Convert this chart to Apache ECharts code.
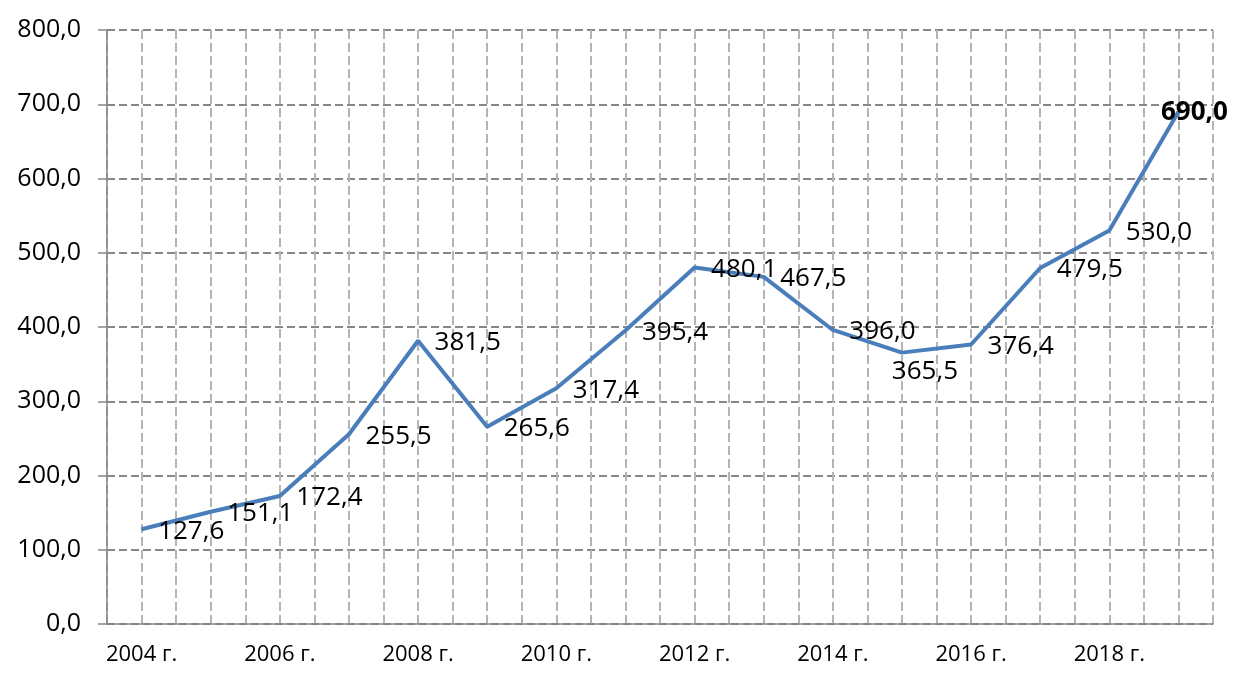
<!DOCTYPE html>
<html>
<head>
<meta charset="utf-8">
<script src="https://cdn.jsdelivr.net/npm/echarts@6/dist/echarts.min.js"></script>
<style>
  html, body { margin: 0; padding: 0; background: #fff; }
  #chart { width: 1236px; height: 684px; }
</style>
</head>
<body>
<div id="chart"></div>
<script>
// годы (категории оси X)
const years = ['2004 г.', '2005 г.', '2006 г.', '2007 г.', '2008 г.', '2009 г.', '2010 г.', '2011 г.',
  '2012 г.', '2013 г.', '2014 г.', '2015 г.', '2016 г.', '2017 г.', '2018 г.', '2019 г.']
// значения ряда
const values = [127.6, 151.1, 172.4, 255.5, 381.5, 265.6, 317.4, 395.4,
  480.1, 467.5, 396.0, 365.5, 376.4, 479.5, 530.0, 690.0]
// деления оси Y
const yMin = 0
const yMax = 800
const yStep = 100

const FONT = '"Open Sans", "Noto Sans", sans-serif'
const fmt = v => v.toFixed(1).replace('.', ',')

// отдельные подписи, которые стоят не справа от точки
const labelTweaks = {
  11: { position: 'bottom', distance: 5, offset: [23, 0] },
  15: { position: 'inside', offset: [16, 1], fontWeight: 'bold' }
}

const seriesData = values.map((v, i) => {
  const item = { value: v }
  if (labelTweaks[i]) item.label = labelTweaks[i]
  return item
})

const chart = echarts.init(document.getElementById('chart'))
chart.setOption({
  animation: false,
  backgroundColor: '#fff',
  textStyle: { fontFamily: FONT },
  grid: { left: 107, right: 23, top: 30, bottom: 60 },
  xAxis: [
    {
      type: 'category',
      data: years,
      boundaryGap: true,
      axisLine: { lineStyle: { color: '#868686', width: 1.5 } },
      axisTick: { interval: 0, length: 8, lineStyle: { color: '#868686', width: 1.5 } },
      axisLabel: { interval: 1, color: '#000', fontSize: 22, margin: 20, fontFamily: FONT },
      splitLine: { show: false }
    },
    {
      // вспомогательная ось только для вертикальной сетки (центры и границы категорий)
      type: 'value',
      min: 0,
      max: years.length * 2,
      interval: 1,
      show: true,
      axisLine: { show: false },
      axisTick: { show: false },
      axisLabel: { show: false },
      splitLine: { show: true, lineStyle: { color: '#b4b4b4', width: 2, type: [9, 4] } }
    }
  ],
  yAxis: {
    type: 'value',
    min: yMin,
    max: yMax,
    interval: yStep,
    axisLine: { show: true, lineStyle: { color: '#868686', width: 1.5 } },
    axisTick: { show: true, length: 9, lineStyle: { color: '#868686', width: 1.5 } },
    axisLabel: { color: '#000', fontSize: 25, margin: 26, formatter: fmt, fontFamily: FONT },
    splitLine: { show: true, lineStyle: { color: '#878787', width: 2, type: [8, 4] } }
  },
  series: [
    {
      type: 'line',
      xAxisIndex: 0,
      data: seriesData,
      symbol: 'circle',
      symbolSize: 1,
      smooth: false,
      lineStyle: { color: '#4a7ebb', width: 4 },
      itemStyle: { color: '#4a7ebb' },
      label: {
        show: true,
        position: 'right',
        distance: 16,
        offset: [0, 2],
        color: '#000',
        fontSize: 26,
        fontFamily: FONT,
        formatter: p => fmt(p.value)
      },
      z: 5
    }
  ]
})
</script>
</body>
</html>
